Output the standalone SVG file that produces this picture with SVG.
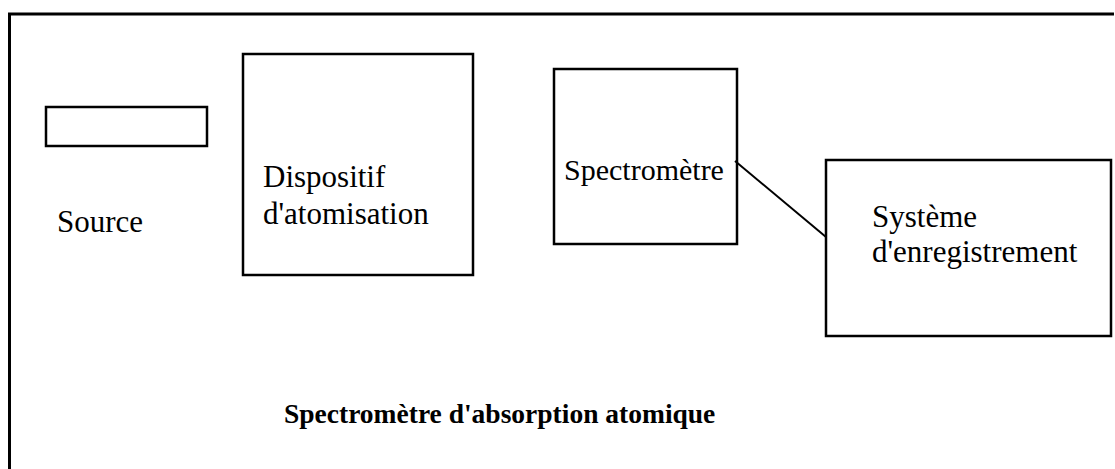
<svg xmlns="http://www.w3.org/2000/svg" width="1115" height="469" viewBox="0 0 1115 469">
<style>
.box{fill:none;stroke:#000;stroke-width:2.5}
.t{font-family:"Liberation Serif","Times New Roman",serif;font-size:31px;fill:#000}
.title{font-family:"Liberation Serif","Times New Roman",serif;font-size:27.5px;font-weight:bold;fill:#000}
.conn{stroke:#000;stroke-width:2;fill:none}
</style>
<rect width="1115" height="469" fill="#fff"/>
<path d="M9.5,469 V14 H1114" fill="none" stroke="#000" stroke-width="3"/>
<g id="source">
<rect class="box" x="46" y="107" width="161" height="39"/>
<text class="t" x="57" y="232">Source</text>
</g>
<g id="atomisation">
<rect class="box" x="243" y="54" width="230" height="221"/>
<text class="t" x="263" y="187">Dispositif</text>
<text class="t" x="263" y="224">d'atomisation</text>
</g>
<g id="spectrometre">
<rect class="box" x="554" y="69" width="183" height="175"/>
<text class="t" x="564" y="180" style="font-size:30px">Spectromètre</text>
</g>
<g id="enregistrement">
<rect class="box" x="826" y="160" width="285" height="176"/>
<text class="t" x="872" y="227">Système</text>
<text class="t" x="872" y="262">d'enregistrement</text>
</g>
<g id="connectors">
<line class="conn" x1="735" y1="161" x2="826" y2="237"/>
</g>
<text class="title" x="284" y="423">Spectromètre d'absorption atomique</text>
</svg>
